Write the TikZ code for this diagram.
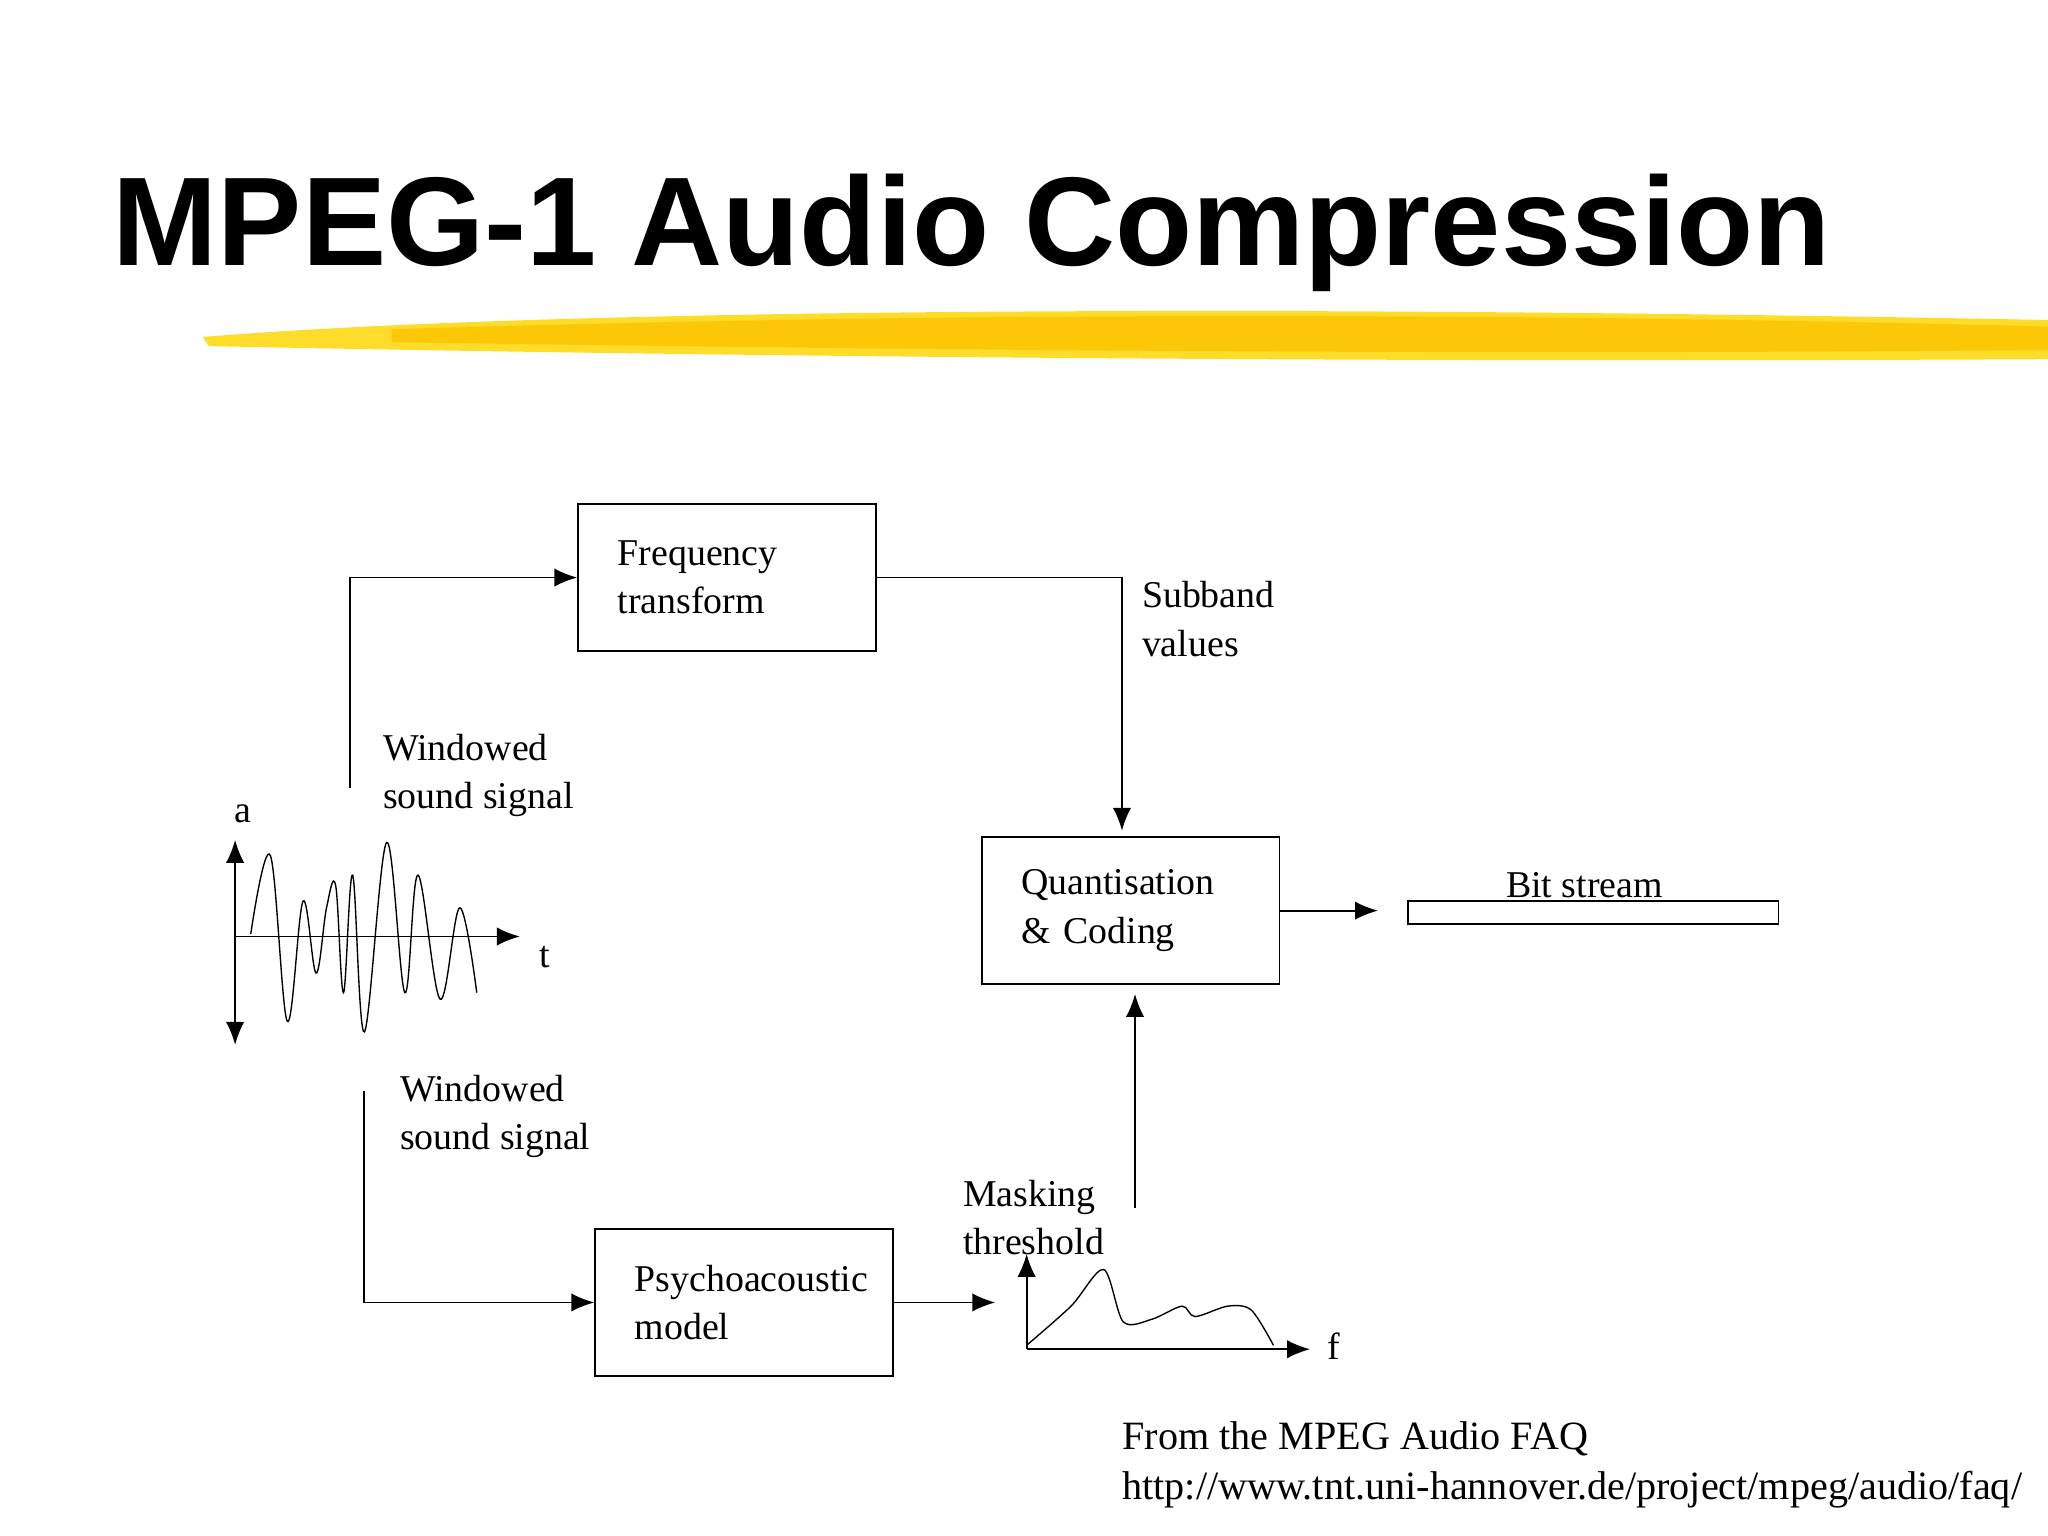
\documentclass[tikz,border=0pt]{standalone}
\usepackage{fontspec}
\setmainfont{Liberation Serif}
\newfontfamily\titlefont{Liberation Sans}
\usetikzlibrary{arrows.meta, positioning}

\begin{document}
\begin{tikzpicture}[x=0.02cm, y=-0.02cm, >={Latex[length=10pt,width=8pt]},
    block/.style={draw, thick, minimum width=4.56cm, minimum height=2.26cm, align=left, font=\fontsize{16.5}{21}\selectfont, text width=3.35cm, inner xsep=0pt},
    lbl/.style={anchor=north west, align=left, font=\fontsize{16.5}{21}\selectfont, inner sep=0pt},
    flow/.style={thick, ->}]
    \useasboundingbox (0,0) rectangle (1568,1176);

    % title and brush stroke
    \node [anchor=base west, inner sep=0pt, font=\titlefont\bfseries\fontsize{55}{60}\selectfont] (title) at (86,203) {MPEG-1 Audio Compression};
    \fill [yellow!75!orange, opacity=0.85] (155,258) .. controls (400,238) and (900,232) .. (1568,245) -- (1568,275) .. controls (1000,278) and (500,272) .. (160,265) -- cycle;
    \fill [yellow!60!orange] (300,252) .. controls (700,240) and (1100,238) .. (1568,250) -- (1568,268) .. controls (1100,272) and (700,268) .. (300,262) -- cycle;

    % blocks
    \node [block, anchor=north west] (freq) at (442,385) {Frequency\\transform};
    \node [block, anchor=north west] (quant) at (751,640) {Quantisation\\\& Coding};
    \node [block, anchor=north west] (psycho) at (455,940) {Psychoacoustic\\model};
    \node [draw, thick, anchor=north west, minimum width=5.68cm, minimum height=0.36cm, inner sep=0pt] (bits) at (1077,689) {};
    \node [lbl, anchor=south] at (1213,688) {Bit stream};

    % connectors
    \coordinate (win1) at (268,603);
    \coordinate (win2) at (279,835);
    \coordinate (qin) at (859,636);
    \coordinate (bitin) at (1055,698);
    \coordinate (maskin) at (762,1001);
    \coordinate (maskout) at (869,925);
    \coordinate (qout) at (869,761);
    \draw [flow] (win1) |- (freq.west);
    \draw [flow] (freq.east) -| (qin);
    \draw [flow] (quant.east) -- (bitin |- quant.east);
    \draw [flow] (win2) |- (psycho.west);
    \draw [flow] (psycho.east) -- (maskin |- psycho.east);
    \draw [flow] (maskout) -- (qout);

    % labels
    \node [lbl] at (874,445) {Subband\\values};
    \node [lbl] at (293,562) {Windowed\\sound signal};
    \node [lbl] at (306,823) {Windowed\\sound signal};
    \node [lbl] at (737,903) {Masking\\threshold};

    % sound signal
    \draw [thick, <->] (180,643) -- (180,800);
    \draw [thick, ->] (180,717) -- (398,717);
    \node [lbl] at (179,616) {a};
    \node [lbl] at (413,724) {t};
    \draw [semithick] plot [smooth, tension=0.6] coordinates {(192,715) (207,655) (220,782) (232,690) (242,745) (250,695) (257,678) (263,760) (270,670) (279,790) (296,645) (310,760) (320,670) (337,765) (352,695) (365,760)};

    % masking curve
    \draw [thick, ->] (786,1033) -- (786,960);
    \draw [thick, ->] (786,1033) -- (1003,1033);
    \node [lbl] at (1016,1020) {f};
    \draw [semithick] plot [smooth, tension=0.5] coordinates {(786,1030) (820,1000) (845,972) (860,1012) (882,1010) (905,1000) (915,1008) (940,1000) (958,1003) (975,1030)};

    % source
    \node [lbl, font=\fontsize{17.5}{22}\selectfont] at (859,1088) {From the MPEG Audio FAQ\\http://www.tnt.uni-hannover.de/project/mpeg/audio/faq/};
\end{tikzpicture}
\end{document}
